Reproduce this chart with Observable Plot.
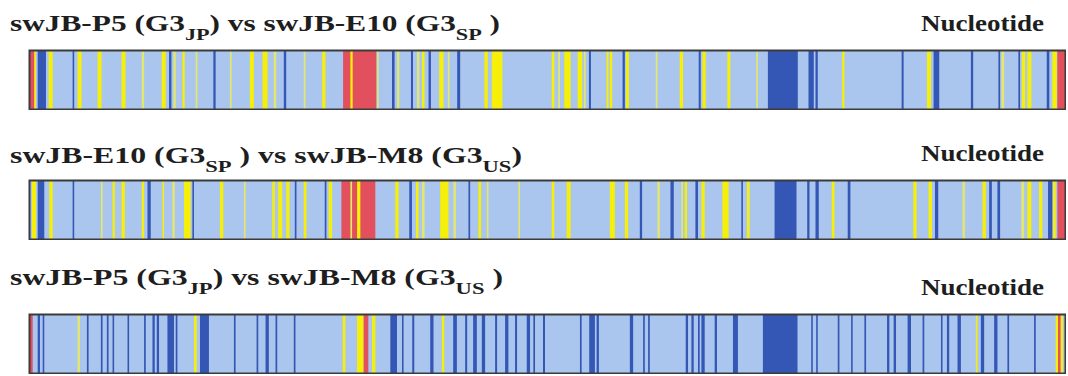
<!DOCTYPE html>
<html><head><meta charset="utf-8">
<script src="https://cdn.jsdelivr.net/npm/d3@7"></script>
<script src="https://cdn.jsdelivr.net/npm/@observablehq/plot@0.6"></script>
<style>
html,body{margin:0;padding:0;background:#fff;}
#root{position:relative;width:1068px;height:376px;overflow:hidden;background:#fff;}
#root svg{position:absolute;}
</style></head><body><div id="root"></div>
<script>
// ---------- data ----------
// kinds of site along the gene
const kindNames = ["dark", "yellow", "pale", "red"];
// titles: [text, isSubscript]
const title1 = [["swJB-P5 (G3", 0], ["JP", 1], [") vs swJB-E10 (G3", 0], ["SP", 1], [" )", 0]];
const title2 = [["swJB-E10 (G3", 0], ["SP", 1], [" ) vs swJB-M8 (G3", 0], ["US", 1], [")", 0]];
const title3 = [["swJB-P5 (G3", 0], ["JP", 1], [") vs swJB-M8 (G3", 0], ["US", 1], [" )", 0]];
const sideLabel = "Nucleotide";
const geneLength = 1038;

// stripes: [start, end, kind] (position along the gene, estimated)
const pair1 = [
  [0.5,5.5,"red"],[5.3,7,"yellow"],[8.7,17,"dark"],[19.7,23.7,"yellow"],[43.7,45.3,"dark"],
  [48.7,52.7,"yellow"],[68.7,72.7,"yellow"],[92.7,96.7,"yellow"],[113,115.3,"pale"],[133,137,"yellow"],
  [140.3,142.7,"dark"],[144.7,147,"pale"],[153.7,156,"yellow"],[167,168.7,"pale"],[184.7,187,"dark"],
  [201.3,203,"pale"],[221.3,225.3,"yellow"],[234,239,"yellow"],[245.3,247.7,"pale"],[255.3,257.7,"dark"],
  [275.3,277,"pale"],[293.7,297,"yellow"],[314.7,348,"red"],[322,324.3,"yellow"],[348.7,350.3,"pale"],
  [363.7,366.3,"dark"],[368.7,371,"pale"],[382.7,384.7,"dark"],[388.7,391,"pale"],[393.7,396.3,"yellow"],
  [400.3,402.7,"dark"],[411,415.3,"yellow"],[419.7,421.3,"pale"],[429,432,"dark"],[456.3,459.7,"yellow"],
  [463.7,474.3,"yellow"],[523.7,526.3,"yellow"],[530.3,532,"pale"],[536.3,542.7,"yellow"],[549.7,554.3,"yellow"],
  [556,557.7,"pale"],[561,563,"dark"],[578.7,580.7,"yellow"],[582,584.3,"yellow"],[594.7,597,"dark"],
  [598,601,"yellow"],[628,629.7,"pale"],[652,655.3,"yellow"],[671,673,"dark"],[674.7,678,"yellow"],
  [699.7,702.7,"yellow"],[728.7,730.3,"pale"],[740.3,770.3,"dark"],[781,786.3,"dark"],[788,790.3,"dark"],
  [814.7,817,"yellow"],[874.3,876.3,"dark"],[899.7,903.7,"yellow"],[906.3,912,"dark"],[943.7,946,"dark"],
  [971.3,973,"dark"],[974.3,977,"pale"],[991.3,993,"dark"],[994.7,998,"yellow"],[1000.3,1004.3,"yellow"],
  [1019.7,1022.3,"dark"],[1025.3,1029.7,"yellow"],[1030.3,1038,"red"]
];
const pair2 = [
  [3,7,"yellow"],[8.7,15.3,"dark"],[20.3,23.7,"yellow"],[43.7,45.3,"dark"],[72,73.7,"pale"],
  [83.7,86,"yellow"],[92.7,96,"yellow"],[113,115.3,"yellow"],[118.7,122,"dark"],[133.7,135.3,"yellow"],
  [143.7,146,"pale"],[155.3,162,"yellow"],[163.7,165.3,"dark"],[191.3,194.7,"yellow"],[215.3,217,"pale"],
  [243.7,246.3,"yellow"],[249.7,253.7,"yellow"],[257.7,261,"yellow"],[266.3,268,"dark"],[275.3,278,"yellow"],
  [296.3,298,"dark"],[300.3,303.7,"yellow"],[313,347,"red"],[322,323.7,"pale"],[328.7,332,"yellow"],
  [367,370.3,"yellow"],[381,383.7,"dark"],[387.7,390.3,"yellow"],[393.7,396.3,"pale"],[412,420.3,"yellow"],
  [425.3,427.7,"pale"],[440.3,442,"dark"],[450.3,453,"yellow"],[458.7,460.3,"pale"],[490.3,492,"pale"],
  [523.7,526.3,"yellow"],[538.7,542.7,"yellow"],[582,587,"yellow"],[597,600.3,"yellow"],[612,614.3,"dark"],
  [629.7,632,"pale"],[642.7,646,"dark"],[653.7,655.3,"pale"],[657,659.3,"yellow"],[667.7,670.3,"dark"],
  [673.7,677,"yellow"],[694.7,701,"yellow"],[713.7,715.3,"dark"],[719.3,722,"yellow"],[747,769,"dark"],
  [779.7,782,"dark"],[788,791.3,"dark"],[804.3,807,"yellow"],[820.3,823,"dark"],[886,889.3,"yellow"],
  [901.3,904.7,"yellow"],[907.7,911,"dark"],[935.3,937.7,"pale"],[955.3,958.7,"yellow"],[962,964.7,"dark"],
  [970.3,973,"dark"],[994.3,997,"pale"],[1000.3,1004.3,"yellow"],[1012,1015.3,"yellow"],[1021,1025.3,"dark"],
  [1026,1028.7,"yellow"],[1030.3,1038,"red"]
];
const pair3 = [
  [0,3.7,"red"],[8.7,11,"dark"],[13.7,15.3,"dark"],[48.7,51,"pale"],[58,59.7,"dark"],[72,73.7,"dark"],
  [78,79.7,"dark"],[83.7,85.3,"dark"],[98.7,100.3,"dark"],[115.3,117,"dark"],[123.7,126,"dark"],[128,130.3,"dark"],
  [138.7,145.3,"dark"],[147,148.7,"dark"],[165.3,168,"yellow"],[171.3,180.3,"dark"],[205.3,207,"dark"],
  [228,229.7,"dark"],[237,240.3,"dark"],[247,248.7,"dark"],[265.3,267,"dark"],[314.3,317,"yellow"],
  [328.7,335.3,"yellow"],[335.3,340,"red"],[343.7,347,"yellow"],[362,368.7,"dark"],[373.7,375.3,"dark"],
  [384,386,"dark"],[402,405.3,"dark"],[413.7,416,"yellow"],[425,428.7,"dark"],[437,439,"dark"],[445,448.7,"dark"],
  [453.7,457,"dark"],[467,469,"dark"],[477,480.3,"dark"],[487,489,"dark"],[498.7,502,"dark"],[505.3,507,"dark"],
  [515,517,"dark"],[552,553.7,"dark"],[561.3,567,"dark"],[568.7,571,"dark"],[602,605.3,"dark"],[615.3,617,"dark"],
  [620.3,622,"dark"],[658,660.3,"dark"],[663.7,666,"dark"],[670.3,672,"dark"],[673.7,677,"dark"],[687,689.3,"dark"],
  [705.3,710.3,"dark"],[735.3,770,"dark"],[783.7,785.3,"dark"],[788.7,790.3,"dark"],[810.3,812,"dark"],
  [823.7,825.3,"dark"],[837,838.7,"dark"],[859.7,862,"dark"],[866.3,868.7,"dark"],[880.3,883.7,"dark"],
  [895.3,897,"dark"],[913.7,915.3,"dark"],[919.7,922,"dark"],[930.3,933.7,"dark"],[948.7,950.3,"yellow"],
  [953.7,957,"dark"],[967,970.3,"dark"],[980.3,982,"dark"],[1007,1008.7,"dark"],[1028.7,1031,"yellow"],
  [1031,1033.7,"red"],[1033.7,1036,"yellow"]
];

// ---------- drawing ----------
const kindColors = ["#3457b6", "#f6ef0a", "#e4e86a", "#e2505e"];
const root = d3.select("#root");

function drawBar(stripes, top) {
  const data = stripes.map(([start, end, kind]) => ({start, end, kind}))
    .sort((a, b) => (b.end - b.start) - (a.end - a.start));
  const chart = Plot.plot({
    width: 1038, height: 61,
    marginLeft: 1, marginRight: 1, marginTop: 1, marginBottom: 1,
    x: {domain: [0, geneLength], axis: null},
    color: {domain: kindNames, range: kindColors},
    style: {background: "transparent"},
    marks: [
      Plot.frame({fill: "#abc6ee"}),
      Plot.rect(data, {x1: "start", x2: "end", fill: "kind"}),
      Plot.frame({stroke: "#3b3b3b", strokeWidth: 2})
    ]
  });
  chart.style.left = "28px";
  chart.style.top = top + "px";
  root.node().appendChild(chart);
}

drawBar(pair1, 49);
drawBar(pair2, 179);
drawBar(pair3, 313);

// titles
const overlay = root.append("svg").attr("width", 1068).attr("height", 376).style("left", 0).style("top", 0);
const font = "'Liberation Serif','Times New Roman',serif";
function drawTitle(parts, x, y, width) {
  const t = overlay.append("text").attr("x", x).attr("y", y)
    .attr("font-family", font).attr("font-weight", "bold").attr("font-size", 24)
    .attr("fill", "#1e1e1e").style("white-space", "pre")
    .attr("textLength", width).attr("lengthAdjust", "spacingAndGlyphs");
  let sub = false;
  parts.forEach(([s, isSub]) => {
    const ts = t.append("tspan").text(s);
    if (isSub && !sub) { ts.attr("dy", 9).attr("font-size", 17); sub = true; }
    else if (isSub) { ts.attr("font-size", 17); }
    else if (sub) { ts.attr("dy", -9); sub = false; }
  });
}
function drawSide(y) {
  overlay.append("text").attr("x", 1044).attr("y", y).attr("text-anchor", "end")
    .attr("font-family", font).attr("font-weight", "bold").attr("font-size", 24)
    .attr("fill", "#1e1e1e").attr("textLength", 123).attr("lengthAdjust", "spacingAndGlyphs")
    .text(sideLabel);
}
drawTitle(title1, 10, 31, 490);
drawTitle(title2, 10, 163, 512);
drawTitle(title3, 10, 285, 493);
drawSide(31);
drawSide(161);
drawSide(295);
</script></body></html>
